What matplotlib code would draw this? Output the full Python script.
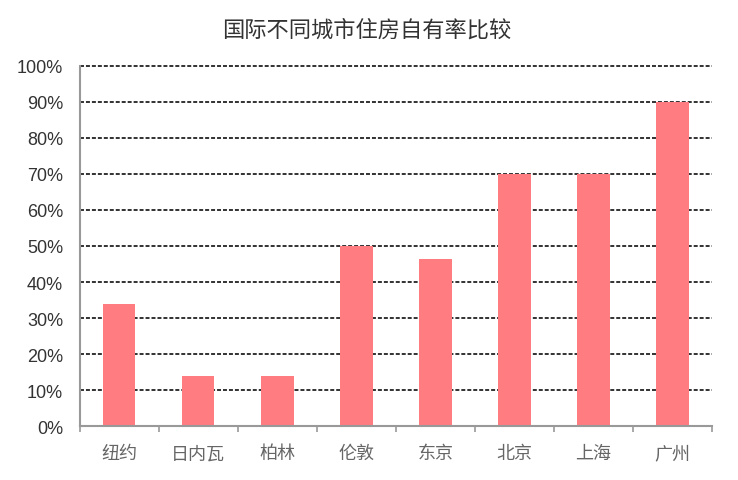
import matplotlib
matplotlib.use('Agg')
from matplotlib import pyplot as plt
from matplotlib.ticker import PercentFormatter, FixedLocator
import numpy as np

cities = ['纽约', '日内瓦', '柏林', '伦敦', '东京', '北京', '上海', '广州']
ownership = [34, 14, 14, 50, 46.4, 70, 70, 90]
y_ticks = [0, 10, 20, 30, 40, 50, 60, 70, 80, 90, 100]

plt.rcParams['font.family'] = ['Noto Sans CJK SC', 'DejaVu Sans']


def main():
    fig = plt.figure(figsize=(7.38, 4.81), dpi=100)
    ax = fig.add_axes([0.108, 0.112, 0.857, 0.749])

    x = np.arange(len(cities))
    ax.set_axisbelow(True)
    ax.yaxis.grid(True, color='#222222', linestyle=(0, (2.2, 1.1)), linewidth=1.3)
    for line in ax.get_ygridlines():
        line.set_clip_on(False)
    ax.bar(x, ownership, width=0.41, color='#FF7C80', zorder=2)

    ax.set_xlim(-0.5, len(cities) - 0.5)
    ax.set_ylim(0, 100)
    ax.set_yticks(y_ticks)
    ax.yaxis.set_major_formatter(PercentFormatter(decimals=0))
    for lab in ax.get_yticklabels():
        lab.set_family(['Liberation Sans', 'DejaVu Sans'])
        lab.set_fontsize(13)
        lab.set_color('#333333')
    ax.tick_params(axis='y', length=0, pad=12)
    for line in ax.get_ygridlines():
        line.set_clip_on(False)

    ax.set_xticks(x)
    ax.set_xticklabels(cities, fontsize=13, color='#666666')
    ax.xaxis.set_minor_locator(FixedLocator(np.arange(len(cities) + 1) - 0.5))
    ax.tick_params(axis='x', which='major', length=0, pad=13)
    ax.tick_params(axis='x', which='minor', length=4, color='#999999', width=1.2)

    for side in ['top', 'right']:
        ax.spines[side].set_visible(False)
    for side in ['left', 'bottom']:
        ax.spines[side].set_color('#999999')
        ax.spines[side].set_linewidth(1.5)

    fig.text(0.497, 0.938, '国际不同城市住房自有率比较', ha='center', va='center',
             fontsize=16, fontweight='light', color='#333333')

    plt.savefig('out.png', dpi=100)


if __name__ == '__main__':
    main()
